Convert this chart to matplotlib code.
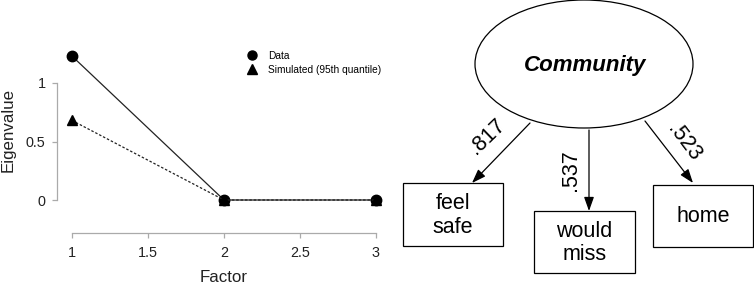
import matplotlib
matplotlib.use('Agg')
import matplotlib.pyplot as plt
from matplotlib.patches import Ellipse, Rectangle
from matplotlib.lines import Line2D

plt.rcParams['font.family'] = ['Liberation Sans', 'DejaVu Sans']

# --- scree plot data ---
factors = [1, 2, 3]
data_eig = [1.23, 0.0, 0.0]
sim_eig = [0.68, 0.0, 0.0]
x_ticks = [1, 1.5, 2, 2.5, 3]
x_ticklabels = ['1', '1.5', '2', '2.5', '3']
y_ticks = [0, 0.5, 1]
y_ticklabels = ['0', '0.5', '1']

# --- path diagram data ---
latent = 'Community'
indicators = ['feel\nsafe', 'would\nmiss', 'home']
loadings = ['.817', '.537', '.523']

W, H = 754, 285
fig = plt.figure(figsize=(W / 100, H / 100), dpi=100)

def px(x0, y0, x1, y1):
    # pixel box (top-left origin) -> figure fraction rect
    return [x0 / W, 1 - y1 / H, (x1 - x0) / W, (y1 - y0) / H]

# ==============================================================================
# LEFT: scree plot
# ==============================================================================
ax = fig.add_axes(px(57, 50, 388, 210))
ax.set_xlim(1 - 15 / 152, 3 + 12 / 152)
ax.set_ylim(-10 / 117, 1 + 33 / 117)

ax.plot(factors, data_eig, '-', color='#222222', lw=0.9, marker='o',
        ms=7.5, mfc='black', mec='black', zorder=3)
ax.plot(factors, sim_eig, linestyle=(0, (2, 1.5)), color='#222222', lw=0.9,
        marker='^', ms=7.5, mfc='black', mec='black', zorder=3)

for s in ['top', 'right']:
    ax.spines[s].set_visible(False)
ax.spines['left'].set_bounds(0, 1)
ax.spines['bottom'].set_bounds(1, 3)
ax.spines['bottom'].set_position(('outward', 16.5))
for s in ['left', 'bottom']:
    ax.spines[s].set_color('#aaaaaa')
    ax.spines[s].set_linewidth(0.9)

ax.set_xticks(x_ticks)
ax.set_xticklabels(x_ticklabels)
ax.set_yticks(y_ticks)
ax.set_yticklabels(y_ticklabels)
ax.tick_params(axis='both', colors='#aaaaaa', labelcolor='#222222',
               labelsize=10.4, length=3.6, width=0.9)
ax.tick_params(axis='x', pad=5.5)
ax.tick_params(axis='y', pad=4.5)
ax.patch.set_visible(False)

fig.text(8 / W, 1 - 130 / H, 'Eigenvalue', rotation=90, ha='center',
         va='center', fontsize=12.2, color='#222222')
fig.text(224 / W, 1 - 277 / H, 'Factor', ha='center', va='center',
         fontsize=12.2, color='#222222')

handles = [Line2D([], [], ls='none', marker='o', ms=6.5, color='black'),
           Line2D([], [], ls='none', marker='^', ms=6.5, color='black')]
fig.legend(handles, ['Data', 'Simulated (95th quantile)'],
           loc='upper left', bbox_to_anchor=(247 / W, 1 - 51 / H),
           frameon=False, fontsize=7.3, handlelength=1.0,
           handletextpad=1.1, labelspacing=0.35, borderpad=0,
           borderaxespad=0)

# ==============================================================================
# RIGHT: path diagram (pixel coordinates)
# ==============================================================================
ad = fig.add_axes([0, 0, 1, 1])
ad.set_xlim(0, W)
ad.set_ylim(H, 0)
ad.axis('off')

ad.add_patch(Ellipse((584, 64), 218, 128, fill=False, ec='black', lw=0.9))
ad.text(585, 66, latent, ha='center', va='center', fontsize=16,
        fontweight='bold', fontstyle='italic')

boxes = [(403, 183, 503, 246), (534, 211, 635, 273), (653, 185, 753, 247)]
for (x0, y0, x1, y1), lab in zip(boxes, indicators):
    ad.add_patch(Rectangle((x0, y0), x1 - x0, y1 - y0, fill=False,
                           ec='black', lw=0.9))
    ad.text((x0 + x1) / 2, (y0 + y1) / 2 + 1, lab, ha='center',
            va='center', fontsize=15.5, linespacing=1.15)

arrows = [((530, 123), (472, 183)), ((589, 130), (589, 211)),
          ((645, 121), (693, 183))]
for start, end in arrows:
    ad.annotate('', xy=end, xytext=start,
                arrowprops=dict(arrowstyle='-|>,head_length=0.7,head_width=0.25',
                                color='black', lw=0.9, shrinkA=0, shrinkB=0,
                                mutation_scale=12))

label_pos = [(487, 137, 44), (570, 170, 90), (684, 142, -53)]
for (lx, ly, rot), lab in zip(label_pos, loadings):
    ad.text(lx, ly, lab, ha='center', va='center', rotation=rot,
            fontsize=15.5, rotation_mode='anchor')

fig.savefig('out.png', dpi=100)
